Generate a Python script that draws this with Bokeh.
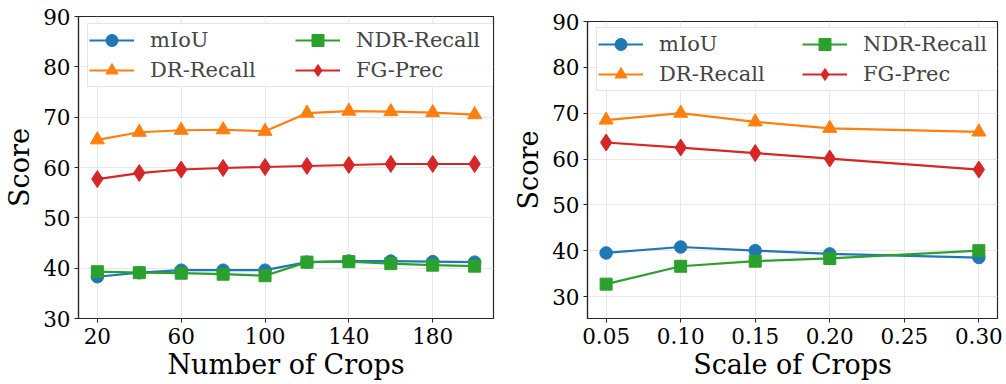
from bokeh.plotting import figure
from bokeh.layouts import row
from bokeh.models import Legend, LegendItem, FixedTicker, Range1d
from bokeh.embed import file_html
from bokeh.resources import INLINE

# ---- data ----
num_crops = [20, 40, 60, 80, 100, 120, 140, 160, 180, 200]
left_miou = [38.3, 39.1, 39.6, 39.6, 39.6, 41.2, 41.4, 41.4, 41.3, 41.2]
left_dr = [65.5, 67.0, 67.4, 67.5, 67.2, 70.8, 71.2, 71.1, 70.9, 70.5]
left_ndr = [39.3, 39.1, 39.0, 38.8, 38.5, 41.2, 41.3, 40.9, 40.6, 40.4]
left_fg = [57.7, 58.9, 59.6, 59.9, 60.1, 60.3, 60.5, 60.7, 60.7, 60.7]

scale_crops = [0.05, 0.10, 0.15, 0.20, 0.30]
right_miou = [39.5, 40.8, 40.0, 39.3, 38.5]
right_dr = [68.5, 70.0, 68.1, 66.7, 65.9]
right_ndr = [32.7, 36.6, 37.7, 38.3, 40.0]
right_fg = [63.6, 62.5, 61.3, 60.1, 57.7]

left_xticks = [20, 60, 100, 140, 180]
right_xticks = [0.05, 0.10, 0.15, 0.20, 0.25, 0.30]
right_xtick_labels = ["0.05", "0.10", "0.15", "0.20", "0.25", "0.30"]
yticks = [30, 40, 50, 60, 70, 80, 90]

series_names = ["mIoU", "DR-Recall", "NDR-Recall", "FG-Prec"]
colors = ["#1f77b4", "#ff7f0e", "#2ca02c", "#d62728"]
markers = ["circle", "triangle", "square", "diamond"]
marker_sizes = [12.5, 14, 12, 17]

FONT = "DejaVu Serif"


def make_plot(x, ys, xr, yr, xticks, xlabel, frame_w, frame_h, bl, br,
              legend_xy, label_w, xlabels=None):
    p = figure(frame_width=frame_w, frame_height=frame_h,
               x_range=Range1d(*xr), y_range=Range1d(*yr),
               output_backend="svg", toolbar_location=None,
               min_border_left=bl, min_border_top=16, min_border_right=br,
               min_border_bottom=66, background_fill_color="white",
               border_fill_color="white")
    p.outline_line_color = "#262626"
    p.outline_line_width = 1.2
    for ax in (p.xaxis[0], p.yaxis[0]):
        ax.axis_line_color = "#262626"
        ax.axis_line_width = 1.2
        ax.major_tick_line_color = "#262626"
        ax.major_tick_out = 4
        ax.major_tick_in = 0
        ax.minor_tick_line_color = None
        ax.major_label_text_font = FONT
        ax.major_label_text_font_size = "21.5px"
        ax.major_label_text_color = "black"
        ax.axis_label_text_font = FONT
        ax.axis_label_text_font_size = "27px"
        ax.axis_label_text_font_style = "normal"
        ax.axis_label_text_color = "black"
    p.xaxis[0].ticker = FixedTicker(ticks=xticks)
    p.yaxis[0].ticker = FixedTicker(ticks=yticks)
    if xlabels is not None:
        p.xaxis[0].major_label_overrides = {t: l for t, l in zip(xticks, xlabels)}
    p.xaxis[0].axis_label = xlabel
    p.yaxis[0].axis_label = "Score"
    p.xaxis[0].major_label_standoff = 5
    p.yaxis[0].major_label_standoff = 4
    p.xaxis[0].axis_label_standoff = 2
    p.yaxis[0].axis_label_standoff = 5
    p.xgrid.grid_line_color = "#e8e8e8"
    p.ygrid.grid_line_color = "#e8e8e8"
    p.xgrid.ticker = FixedTicker(ticks=xticks)
    p.ygrid.ticker = FixedTicker(ticks=yticks)

    items = []
    for name, y, c, m, s in zip(series_names, ys, colors, markers, marker_sizes):
        ln = p.line(x, y, line_color=c, line_width=2.2)
        sc = p.scatter(x, y, marker=m, size=s, fill_color=c, line_color=c)
        items.append(LegendItem(label=name, renderers=[ln, sc]))
    leg = Legend(items=items, ncols=2, location=legend_xy,
                 label_text_font=FONT, label_text_font_size="21px",
                 glyph_width=45, glyph_height=30, label_height=30,
                 label_width=label_w, label_standoff=16, spacing=0, padding=1,
                 border_line_color="#cccccc", border_line_width=1,
                 background_fill_alpha=0.85)
    p.add_layout(leg, "center")
    return p


p1 = make_plot(num_crops, [left_miou, left_dr, left_ndr, left_fg],
               (11, 209), (30, 90), left_xticks, "Number of Crops",
               415, 302, 78, 10, (9, 302 - 9 - 62), 145)
p2 = make_plot(scale_crops, [right_miou, right_dr, right_ndr, right_fg],
               (0.0375, 0.3125), (25.2, 90), right_xticks, "Scale of Crops",
               410, 297, 84, 9, (9, 297 - 8 - 62), 143, right_xtick_labels)
p2.margin = (5, 0, 0, 0)

layout = row(p1, p2)
open("out.html", "w").write(file_html(layout, INLINE))
